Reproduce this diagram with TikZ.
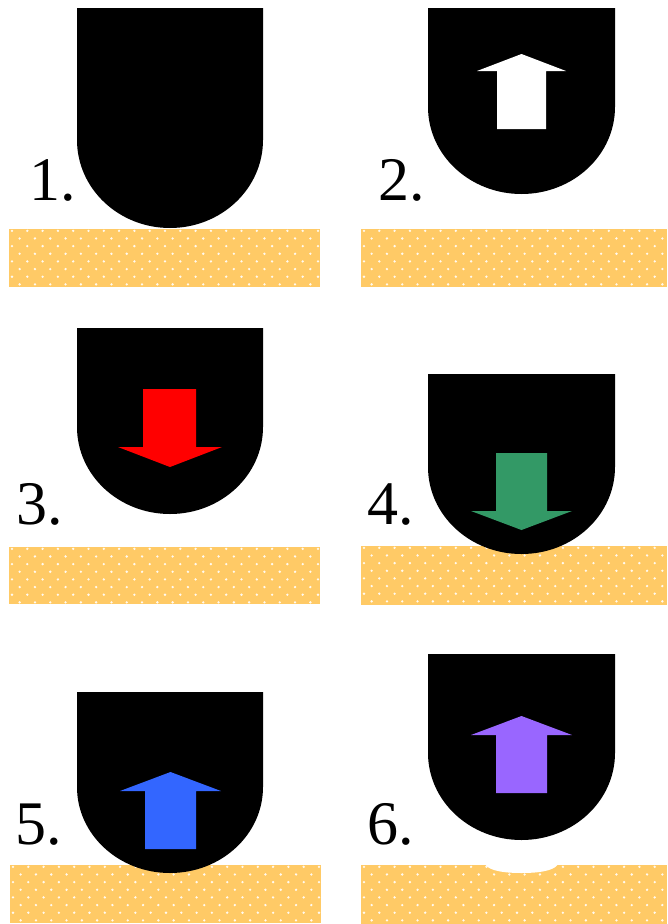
\documentclass[tikz,border=0pt]{standalone}
\usepackage{fontspec}
\setmainfont{Liberation Serif}
\definecolor{barorange}{HTML}{FFCA66}
\definecolor{arrred}{HTML}{FF0000}
\definecolor{arrgreen}{HTML}{339966}
\definecolor{arrblue}{HTML}{3366FF}
\definecolor{arrpurple}{HTML}{9966FF}
\tikzset{
  tipfill/.style={fill=black},
  barfill/.style={fill=barorange},
  dotfill/.style={fill=white, fill opacity=0.9},
  steplabel/.style={anchor=base west, inner sep=0pt, font=\fontsize{62}{70}\selectfont}
}
% name-free helper macros
\newcommand{\tipshape}[5]{% x1 x2 top ys bottom
  \pgfmathsetmacro\cxa{(#1+#2)/2}
  \pgfmathsetmacro\kx{0.5523*(#2-#1)/2}
  \pgfmathsetmacro\ky{0.5523*(#5-#4)}
  \fill[tipfill] (#1,#3) -- (#1,#4) .. controls (#1,#4+\ky) and (\cxa-\kx,#5) .. (\cxa,#5)
     .. controls (\cxa+\kx,#5) and (#2,#4+\ky) .. (#2,#4) -- (#2,#3) -- cycle;
}
\newcommand{\dotbar}[4]{% x1 y1 x2 y2
  \fill[barfill] (#1,#2) rectangle (#3,#4);
  \begin{scope}
    \clip (#1,#2) rectangle (#3,#4);
    \foreach \r in {0,...,8}{
      \foreach \c in {0,...,21}{
        \pgfmathsetmacro\dx{#1+3+\c*15.3+mod(\r,2)*7.65}
        \pgfmathsetmacro\dy{#2+1.8+\r*7.65}
        \fill[dotfill] (\dx,\dy) circle[radius=1.3pt];
      }
    }
  \end{scope}
}
\begin{document}
\begin{tikzpicture}[x=1pt,y=-1pt]
\useasboundingbox (0,0) rectangle (667,924);

% bars
\dotbar{9}{229}{320}{287}
\dotbar{361}{229}{667}{287}
\dotbar{9}{547}{320}{604}
\dotbar{361}{546}{667}{605}
\dotbar{10}{865}{321}{923}
\dotbar{361}{865}{667}{924}
% notch in bar 6
\fill[white] (485,864) .. controls (487,868) and (495,873) .. (521.5,873)
   .. controls (548,873) and (556,868) .. (558,864) -- cycle;

% tips
\tipshape{77}{263}{8}{140}{228}
\tipshape{428}{615}{8}{107}{194}
\tipshape{77}{263}{328}{427}{514}
\tipshape{428}{615}{374}{467}{554}
\tipshape{77}{263}{692}{787}{873}
\tipshape{428}{615}{654}{753}{840}

% arrows
\fill[white] (497,129) -- (497,71) -- (477,71) -- (521.5,54) -- (566,71) -- (546,71) -- (546,129) -- cycle;
\fill[arrred] (143,389) -- (143,447) -- (118,447) -- (170,467) -- (222,447) -- (196,447) -- (196,389) -- cycle;
\fill[arrgreen] (496,453) -- (496,511) -- (471,511) -- (521.5,530) -- (572,511) -- (547,511) -- (547,453) -- cycle;
\fill[arrblue] (145,849) -- (145,791) -- (120,791) -- (170.5,772) -- (221,791) -- (196,791) -- (196,849) -- cycle;
\fill[arrpurple] (496,793) -- (496,735) -- (471,735) -- (521.5,716) -- (572,735) -- (547,735) -- (547,793) -- cycle;

% labels
\node[steplabel] (l1) at (29,200) {1.};
\node[steplabel] (l2) at (378,200) {2.};
\node[steplabel] (l3) at (16,524) {3.};
\node[steplabel] (l4) at (367,524) {4.};
\node[steplabel] (l5) at (15,844) {5.};
\node[steplabel] (l6) at (367,844) {6.};
\end{tikzpicture}
\end{document}
